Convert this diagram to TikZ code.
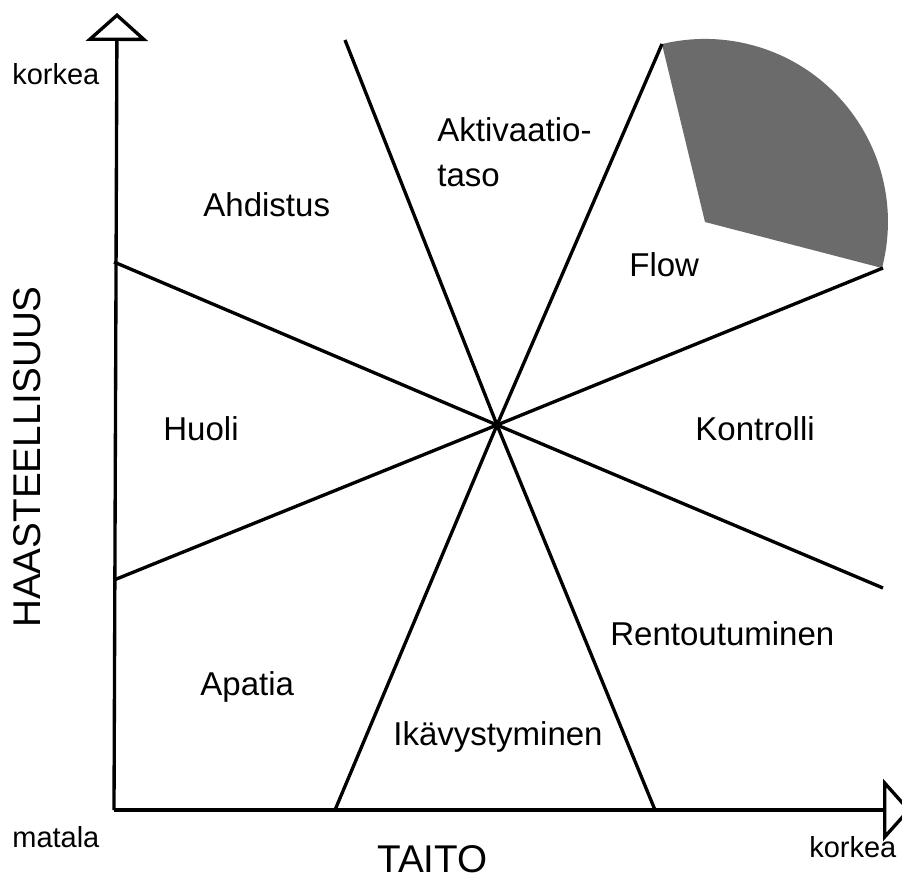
\documentclass[tikz,border=0pt]{standalone}
\usepackage{fontspec}
\setmainfont{Liberation Sans}
\usepackage{tikz}
\usetikzlibrary{arrows.meta}

\begin{document}
\begin{tikzpicture}[
  x=0.02cm, y=-0.02cm,
  zone/.style={font=\fontsize{18.8}{25.6}\selectfont, inner sep=0pt, anchor=base west},
  ends/.style={font=\fontsize{16.5}{20}\selectfont, inner sep=0pt, anchor=base west},
  axtitle/.style={font=\fontsize{22}{26}\selectfont, inner sep=0pt},
  split/.style={line width=1.9pt},
  axis/.style={line width=1.9pt, -{Triangle[open, length=0.56cm, width=1.24cm]}},
  flowarea/.style={fill=black!58}
]
\useasboundingbox (0,0) rectangle (902,878);

% axes
\coordinate (o) at (114,810);
\coordinate (ytip) at (117,13);
\coordinate (xtip) at (911,810);
\draw[axis] (o) -- (ytip);
\draw[axis] (o) -- (xtip);

% flow sector
\coordinate (fc) at (705,222);
\coordinate (fa) at (882,268);
\fill[flowarea] (fc) -- (fa) arc[start angle=-14.6, end angle=103.6, radius=3.66cm] -- cycle;

% lines through the centre
\coordinate (c) at (497,425);
\coordinate (t1) at (345,40);   \coordinate (b1) at (655,810);
\coordinate (t2) at (662,44);   \coordinate (b2) at (335,810);
\coordinate (l3) at (114,262);  \coordinate (r3) at (883,588);
\coordinate (l4) at (114,580);  \coordinate (r4) at (883,268);
\draw[split] (t1) -- (c) -- (b1);
\draw[split] (t2) -- (c) -- (b2);
\draw[split] (l3) -- (c) -- (r3);
\draw[split] (l4) -- (c) -- (r4);

% axis labels
\node[ends] (yhigh) at (12,85) {korkea};
\node[ends] (low) at (12,847) {matala};
\node[ends] (xhigh) at (809,857) {korkea};
\node[axtitle, anchor=base west] (taito) at (377,872) {TAITO};
\node[axtitle, rotate=90] (haaste) at (27,457) {HAASTEELLISUUS};

% zones
\node[zone] (ahd) at (203,217) {Ahdistus};
\node[zone, anchor=north west, align=left] (akt) at (437,117) {Aktivaatio-\\taso};
\node[zone] (flow) at (629,277) {Flow};
\node[zone] (huoli) at (163,440) {Huoli};
\node[zone] (kontr) at (695,440) {Kontrolli};
\node[zone] (rent) at (610,645) {Rentoutuminen};
\node[zone] (apat) at (200,695) {Apatia};
\node[zone] (ikav) at (393,745) {Ikävystyminen};
\end{tikzpicture}
\end{document}
